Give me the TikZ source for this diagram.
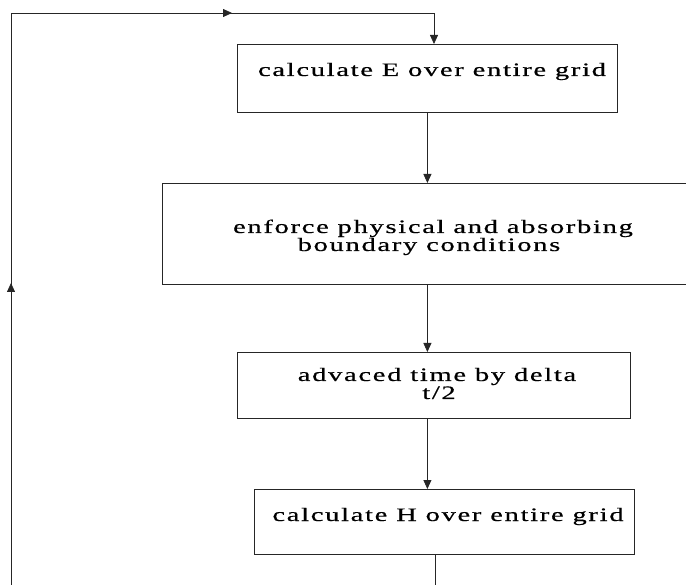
\documentclass[tikz,border=0pt]{standalone}
\usepackage{fontspec}
\setmainfont{Liberation Serif}[FakeStretch=1.5,LetterSpace=9,FakeBold=0.6]
\usetikzlibrary{arrows.meta,decorations.markings,calc}
\begin{document}
\begin{tikzpicture}[x=1pt,y=-1pt,
  line/.style={draw=black!85,line width=0.8pt},
  arr/.style={line,-{Triangle[width=8pt,length=9pt]}},
  boxstyle/.style={draw=black!85,line width=0.8pt,rectangle,inner sep=0pt,anchor=north west},
  txt/.style={font=\fontsize{19}{19}\selectfont,inner sep=0pt,anchor=base},
  midarrow/.style={postaction={decorate},decoration={markings,mark=at position #1 with {\arrow{Triangle[width=8pt,length=9pt]}}}}
]
\useasboundingbox (0,0) rectangle (686,585);
\clip (0,0) rectangle (686,585);
% boxes
\node[boxstyle,minimum width=380pt,minimum height=68pt] (E) at (237,44) {};
\node[boxstyle,minimum width=538pt,minimum height=101pt] (B) at (162,183) {};
\node[boxstyle,minimum width=393pt,minimum height=66pt] (C) at (237,352) {};
\node[boxstyle,minimum width=380pt,minimum height=65pt] (H) at (254,489) {};
% texts
\node[txt] (tE) at (432,76) {calculate E over entire grid};
\node[txt] (tB1) at (433,233) {enforce physical and absorbing};
\node[txt] (tB2) at (429,251) {boundary conditions};
\node[txt] (tC1) at (437,381) {advaced time by delta};
\node[txt] (tC2) at (439,399) {t/2};
\node[txt] (tH) at (448,521) {calculate H over entire grid};
% connectors
\draw[arr] (E.south) -- (E.south |- B.north);
\draw[arr] (B.south -| E.south) -- (C.north -| E.south);
\draw[arr] (C.south -| E.south) -- (H.north -| E.south);
\coordinate (out) at (435,585);
\draw[line] (H.south -| out) -- (out);
% feedback loop
\coordinate (bl) at (11,585);
\coordinate (tl) at (11,13);
\coordinate (tr) at (434,13);
\draw[line,midarrow=302pt] (bl) -- (tl);
\draw[arr,midarrow=221pt] (tl) -- (tr) -- (E.north -| tr);
\end{tikzpicture}
\end{document}
